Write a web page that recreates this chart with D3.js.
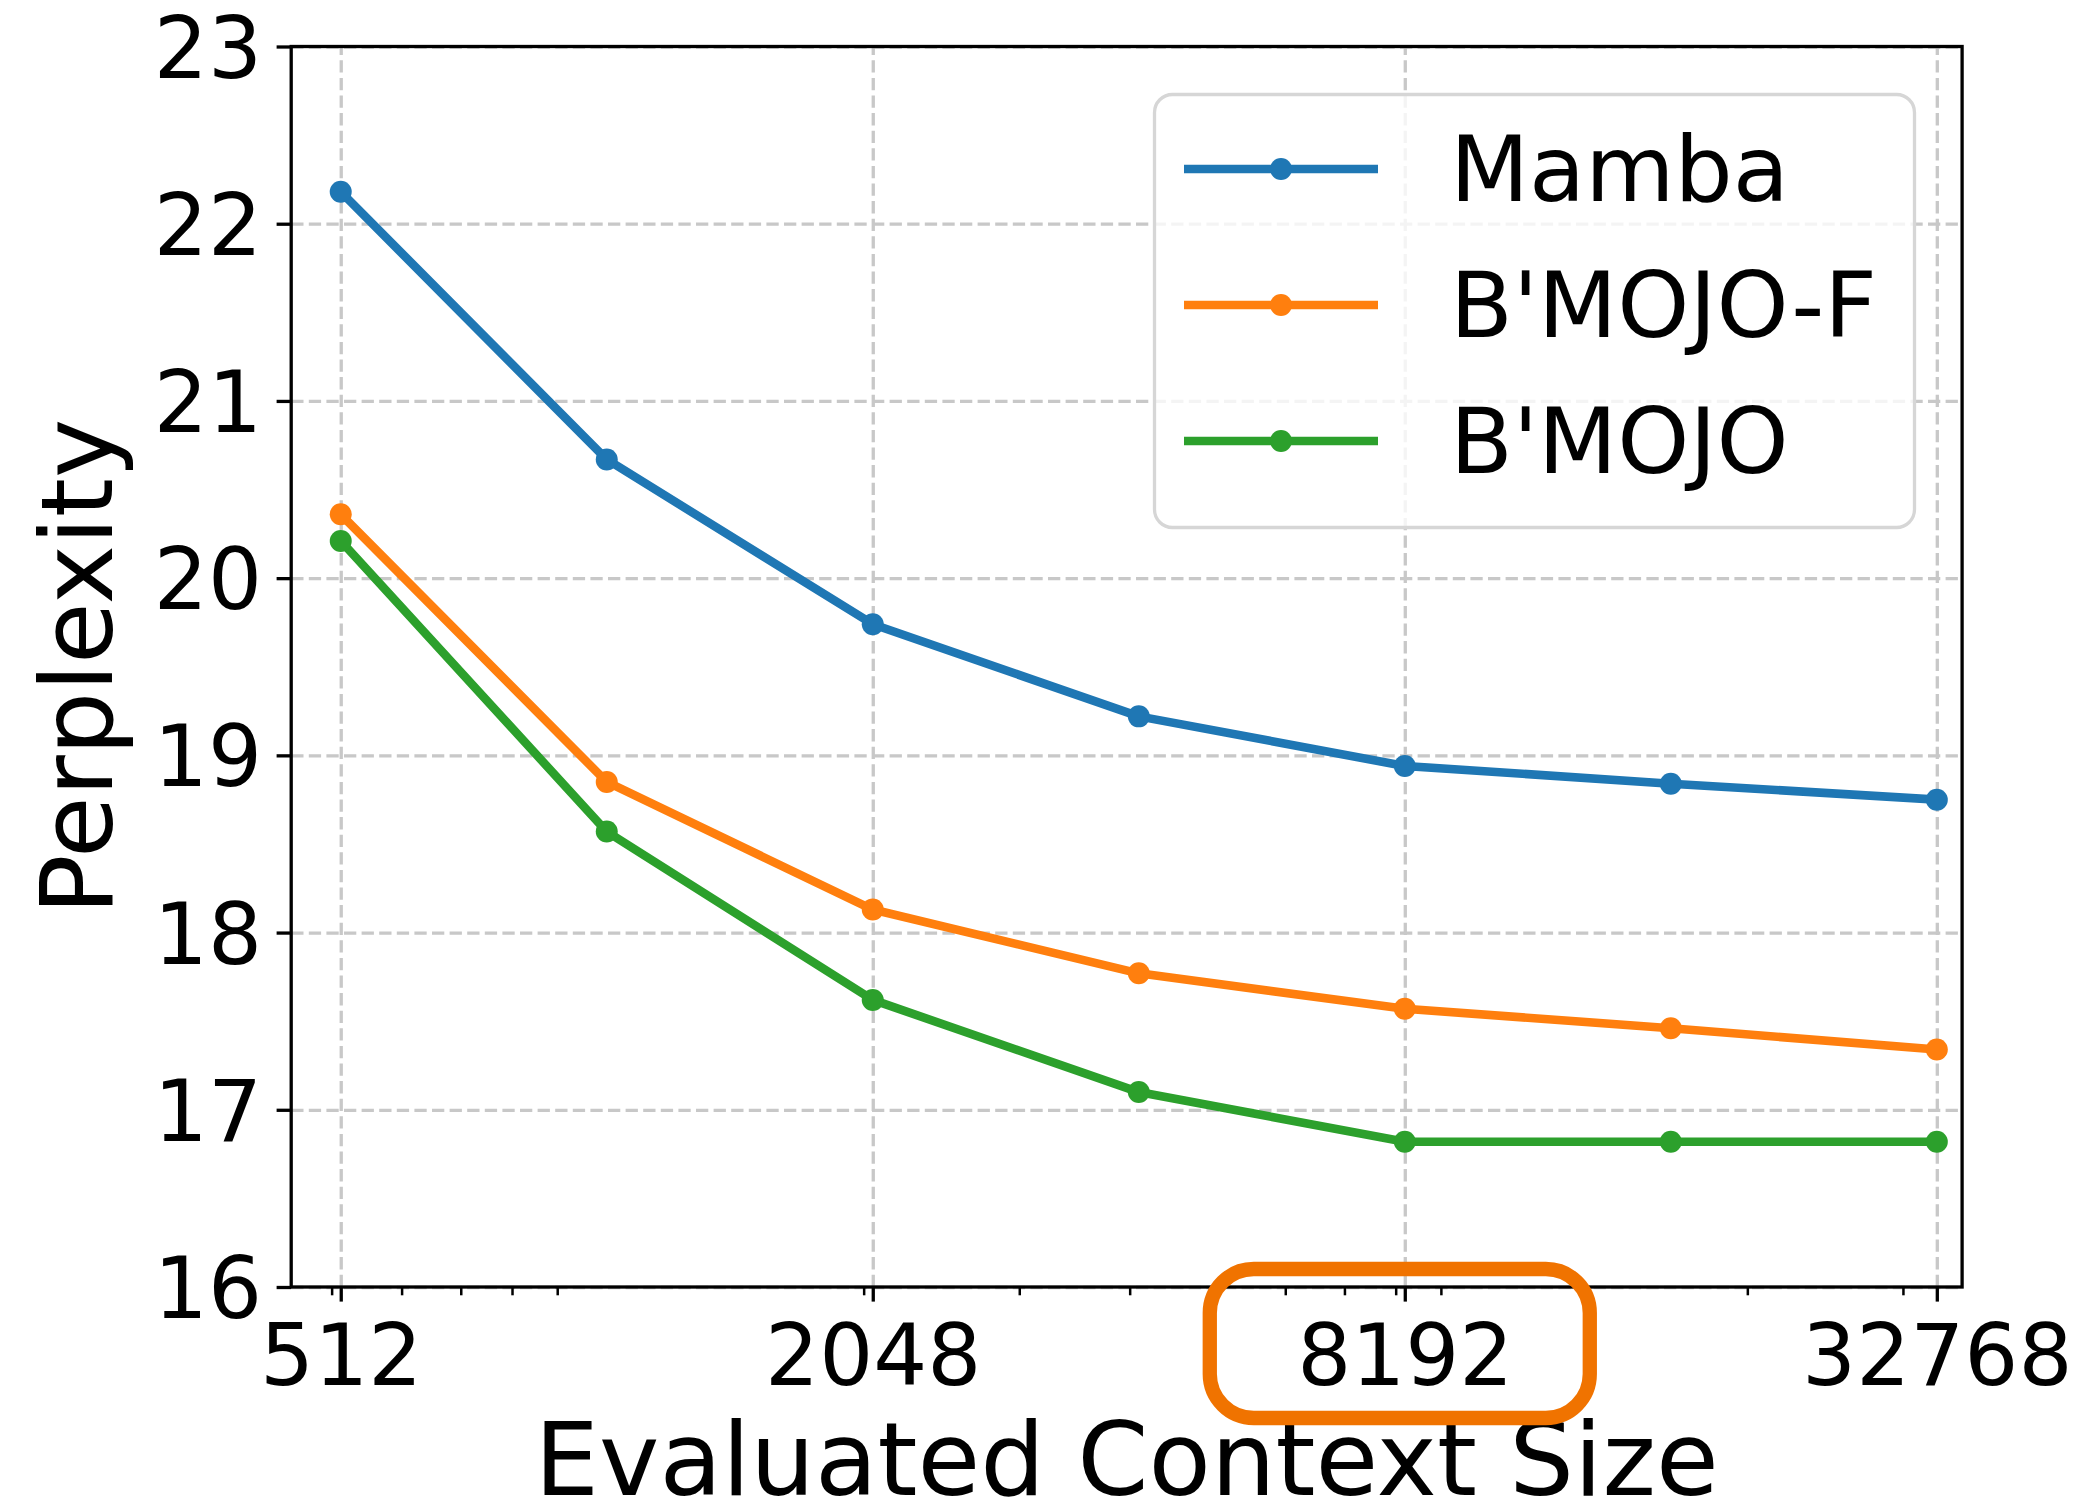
<!DOCTYPE html>
<html>
<head>
<meta charset="utf-8">
<script src="https://cdn.jsdelivr.net/npm/d3@7"></script>
<style>
  html, body { margin: 0; padding: 0; background: #ffffff; }
  svg { display: block; }
  text { font-family: "DejaVu Sans", sans-serif; fill: #000; }
</style>
</head>
<body>
<svg id="chart" width="2080" height="1507"></svg>
<script>
// Context sizes evaluated (tokens)
const contextSizes = [512, 1024, 2048, 4096, 8192, 16384, 32768];

// Perplexity per model
const mambaPpl   = [22.18, 20.67, 19.74, 19.22, 18.94, 18.84, 18.75];
const bmojoFPpl  = [20.36, 18.85, 18.13, 17.77, 17.57, 17.46, 17.34];
const bmojoPpl   = [20.21, 18.57, 17.62, 17.10, 16.82, 16.82, 16.82];

const seriesNames  = ["Mamba", "B'MOJO-F", "B'MOJO"];
const seriesColors = ["#1f77b4", "#ff7f0e", "#2ca02c"];

// Axis ticks
const xTickValues = [512, 2048, 8192, 32768];
const yTickValues = [16, 17, 18, 19, 20, 21, 22, 23];
const xDomain = [450, 35000];
const yDomain = [16, 23];
const highlightedTick = 8192;

const series = seriesNames.map((name, i) => ({
  name,
  color: seriesColors[i],
  values: [mambaPpl, bmojoFPpl, bmojoPpl][i].map((v, j) => ({ x: contextSizes[j], y: v }))
}));

// Plot area
const plot = { left: 291.2, right: 1962.1, top: 46.5, bottom: 1287 };
const W = plot.right - plot.left;
const H = plot.bottom - plot.top;

const svg = d3.select("#chart");
svg.append("rect").attr("width", 2080).attr("height", 1507).attr("fill", "#fff");

const x = d3.scaleLog().base(2).domain(xDomain).range([plot.left, plot.right]);
const y = d3.scaleLinear().domain(yDomain).range([plot.bottom, plot.top]);

// Minor log ticks at 2..9 x 10^k inside the domain
const minorTicks = [];
for (let p = 2; p <= 4; p++) {
  for (let m = 2; m <= 9; m++) {
    const v = m * Math.pow(10, p);
    if (v >= xDomain[0] && v <= xDomain[1]) minorTicks.push(v);
  }
}

const gridStyle = g => g.selectAll("line")
  .attr("stroke", "#c8c8c8")
  .attr("stroke-width", 3.3)
  .attr("stroke-dasharray", "12.3,5.3");

// Grid lines
svg.append("g")
  .attr("transform", `translate(0,${plot.bottom})`)
  .call(d3.axisBottom(x).tickValues(xTickValues).tickSize(-H).tickFormat(""))
  .call(g => g.select(".domain").remove())
  .call(gridStyle);

svg.append("g")
  .attr("transform", `translate(${plot.left},0)`)
  .call(d3.axisLeft(y).tickValues(yTickValues).tickSize(-W).tickFormat(""))
  .call(g => g.select(".domain").remove())
  .call(gridStyle);

// Series lines and markers
const line = d3.line().x(d => x(d.x)).y(d => y(d.y));
const seriesG = svg.append("g");
series.forEach(s => {
  seriesG.append("path")
    .datum(s.values)
    .attr("d", line)
    .attr("fill", "none")
    .attr("stroke", s.color)
    .attr("stroke-width", 8.6)
    .attr("stroke-linejoin", "round")
    .attr("stroke-linecap", "butt");
  seriesG.selectAll(null)
    .data(s.values)
    .join("circle")
    .attr("cx", d => x(d.x))
    .attr("cy", d => y(d.y))
    .attr("r", 11)
    .attr("fill", s.color);
});

// Frame
svg.append("rect")
  .attr("x", plot.left).attr("y", plot.top)
  .attr("width", W).attr("height", H)
  .attr("fill", "none")
  .attr("stroke", "#000")
  .attr("stroke-width", 3.3);

// X axis: minor ticks, then major ticks with labels
svg.append("g")
  .attr("transform", `translate(0,${plot.bottom})`)
  .call(d3.axisBottom(x).tickValues(minorTicks).tickSize(8.3).tickFormat(""))
  .call(g => g.select(".domain").remove())
  .call(g => g.selectAll("line").attr("stroke", "#000").attr("stroke-width", 2.5));

const xAxisG = svg.append("g")
  .attr("transform", `translate(0,${plot.bottom})`)
  .call(d3.axisBottom(x).tickValues(xTickValues).tickSize(14.6).tickPadding(14.6).tickFormat(d3.format("d")))
  .call(g => g.select(".domain").remove());
xAxisG.selectAll("line").attr("stroke", "#000").attr("stroke-width", 3.3);
xAxisG.selectAll("text")
  .attr("font-size", 85)
  .attr("dy", null)
  .attr("y", 98)
  .attr("fill", "#000");

// Y axis
const yAxisG = svg.append("g")
  .attr("transform", `translate(${plot.left},0)`)
  .call(d3.axisLeft(y).tickValues(yTickValues).tickSize(14.6).tickPadding(14.6).tickFormat(d3.format("d")))
  .call(g => g.select(".domain").remove());
yAxisG.selectAll("line").attr("stroke", "#000").attr("stroke-width", 3.3);
yAxisG.selectAll("text")
  .attr("font-size", 85)
  .attr("dy", "0.36em")
  .attr("fill", "#000");

// Axis titles
svg.append("text")
  .attr("x", (plot.left + plot.right) / 2)
  .attr("y", 1495)
  .attr("text-anchor", "middle")
  .attr("font-size", 102)
  .text("Evaluated Context Size");

svg.append("text")
  .attr("transform", `translate(112,${(plot.top + plot.bottom) / 2}) rotate(-90)`)
  .attr("text-anchor", "middle")
  .attr("font-size", 100)
  .text("Perplexity");

// Highlight box around the 8192 tick label
const hx = x(highlightedTick);
svg.append("rect")
  .attr("x", hx - 195)
  .attr("y", 1269)
  .attr("width", 380)
  .attr("height", 149)
  .attr("rx", 44)
  .attr("ry", 44)
  .attr("fill", "none")
  .attr("stroke", "#f07300")
  .attr("stroke-width", 14.3);

// Legend
const legend = svg.append("g");
legend.append("rect")
  .attr("x", 1154.5).attr("y", 94.5)
  .attr("width", 760).attr("height", 433)
  .attr("rx", 18).attr("ry", 18)
  .attr("fill", "#fff").attr("fill-opacity", 0.8)
  .attr("stroke", "#d6d6d6")
  .attr("stroke-width", 3.3);

const rowY = [169, 305, 441];
series.forEach((s, i) => {
  const g = legend.append("g").attr("transform", `translate(0,${rowY[i]})`);
  g.append("line")
    .attr("x1", 1184).attr("x2", 1378)
    .attr("y1", 0).attr("y2", 0)
    .attr("stroke", s.color).attr("stroke-width", 8.6);
  g.append("circle").attr("cx", 1281).attr("cy", 0).attr("r", 11).attr("fill", s.color);
  g.append("text")
    .attr("x", 1450).attr("y", 32)
    .attr("font-size", 91.7)
    .text(s.name);
});
</script>
</body>
</html>
